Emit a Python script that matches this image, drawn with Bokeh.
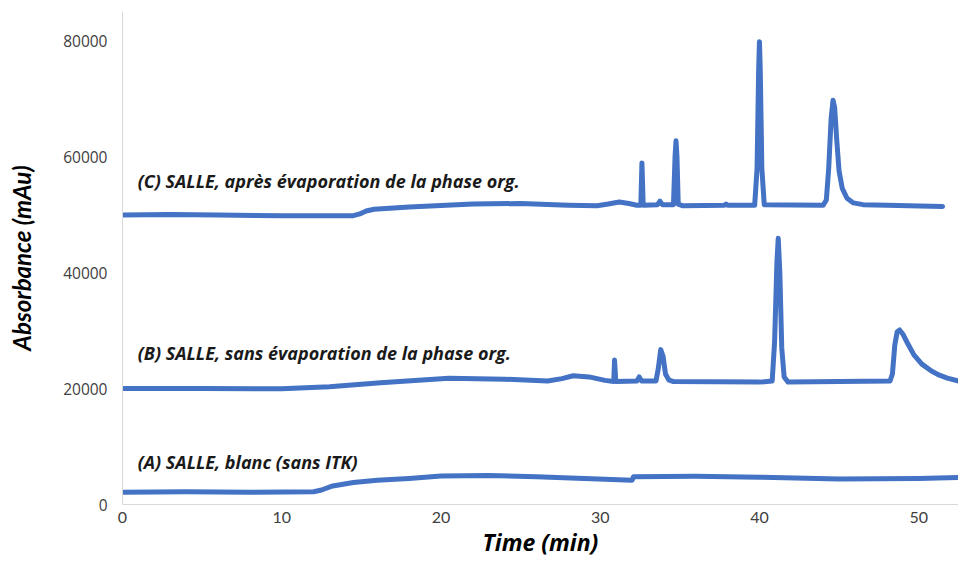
from bokeh.plotting import figure
from bokeh.models import Range1d, FixedTicker, Label
from bokeh.embed import file_html
from bokeh.resources import INLINE

# ---- data ----
# (C) SALLE, après évaporation de la phase org.
c_time = [0, 3, 6, 10, 14.5, 14.9, 15.3, 15.8, 18, 22, 25, 28, 29.8, 30.5, 31.2, 31.8, 32.3,
          32.55, 32.62, 32.7, 33.6, 33.75, 33.9, 34.6, 34.7, 34.76, 34.82, 34.9, 35.2,
          37.8, 37.9, 38.0, 39.7, 39.85, 39.95, 40.0, 40.05, 40.15, 40.3,
          44.0, 44.2, 44.35, 44.5, 44.62, 44.72, 44.85, 45.0, 45.2, 45.5, 45.9, 46.5, 48, 51.5]
c_abs = [49900, 50000, 49900, 49800, 49800, 50100, 50600, 50900, 51300, 51800, 51900, 51600,
         51500, 51800, 52150, 51900, 51600,
         51600, 58900, 51600, 51700, 52300, 51700, 51700, 60000, 62700, 60000, 51800, 51500,
         51600, 51800, 51600, 51600, 58000, 75000, 79800, 75000, 58000, 51700,
         51600, 52500, 58000, 66500, 69700, 68500, 63000, 57500, 54500, 52800, 52000, 51700,
         51600, 51400]

# (B) SALLE, sans évaporation de la phase org.
b_time = [0, 5, 10, 13, 16.2, 20.5, 24, 26.7, 27.6, 28.3, 29.3, 30.3, 30.85, 30.9, 30.98,
          32.3, 32.45, 32.6, 33.5, 33.65, 33.8, 33.95, 34.1, 34.3, 34.6, 40, 40.8, 40.95, 41.1,
          41.18, 41.28, 41.4, 41.55, 41.8, 48.2, 48.35, 48.5, 48.65, 48.8, 49.0, 49.3, 49.7,
          50.2, 50.8, 51.3, 51.8, 52.5, 53]
b_abs = [20000, 20000, 19950, 20300, 21000, 21750, 21600, 21300, 21700, 22200, 22000, 21400,
         21200, 24900, 21200, 21300, 22000, 21300, 21300, 23500, 26700, 25500, 22500, 21500,
         21200, 21100, 21300, 28000, 42000, 45900, 40000, 27000, 22000, 21100, 21300, 22500,
         27500, 29800, 30100, 29400, 27800, 25800, 24200, 23000, 22300, 21800, 21300, 21200]

# (A) SALLE, blanc (sans ITK)
a_time = [0, 4, 8, 12, 12.5, 13.2, 14.5, 16, 18, 20, 23, 26, 29, 32, 32.1, 36, 40, 45, 50, 53]
a_abs = [2100, 2200, 2100, 2200, 2500, 3200, 3800, 4200, 4500, 4900, 5000, 4800, 4500, 4200,
         4800, 4850, 4700, 4400, 4500, 4700]

series_labels = ["(C) SALLE, après évaporation de la phase org.",
                 "(B) SALLE, sans évaporation de la phase org.",
                 "(A) SALLE, blanc (sans ITK)"]
label_x = [0.95, 0.95, 0.95]
label_y = [55850, 26040, 7370]

x_ticks = [0, 10, 20, 30, 40, 50]
y_ticks = [0, 20000, 40000, 60000, 80000]

LINE = "#4472C4"

p = figure(width=958, height=560, output_backend="svg", toolbar_location=None,
           x_range=Range1d(0, 52.5), y_range=Range1d(0, 85000),
           min_border_left=122, min_border_right=0, min_border_top=11, min_border_bottom=53)
p.outline_line_color = None
p.grid.visible = False
p.background_fill_color = "white"

for t, v in [(c_time, c_abs), (b_time, b_abs), (a_time, a_abs)]:
    p.line(t, v, line_color=LINE, line_width=5, line_join="round", line_cap="round")

for txt, lx, ly in zip(series_labels, label_x, label_y):
    p.add_layout(Label(x=lx, y=ly, text=txt, text_font="Open Sans", text_font_style="bold italic",
                       text_font_size="18px", text_color="#1a1a1a", text_baseline="middle"))

p.xaxis.ticker = FixedTicker(ticks=x_ticks)
p.yaxis.ticker = FixedTicker(ticks=y_ticks)
for ax in (p.xaxis, p.yaxis):
    ax.axis_line_color = "#D9D9D9"
    ax.major_tick_line_color = None
    ax.minor_tick_line_color = None
    ax.major_tick_out = 0
    ax.major_tick_in = 0
    ax.minor_tick_out = 0
    ax.minor_tick_in = 0
    ax.major_label_text_color = "#404040"
    ax.axis_label_text_font_style = "bold italic"
    ax.axis_label_text_color = "#000000"

p.xaxis.axis_label = "Time (min)"
p.xaxis.axis_label_text_font = "Open Sans"
p.xaxis.axis_label_text_font_size = "23px"
p.yaxis.axis_label = "Absorbance (mAu)"
p.yaxis.axis_label_text_font = "Lato"
p.yaxis.axis_label_text_font_size = "24px"

p.xaxis.major_label_text_font = "Lato"
p.xaxis.major_label_text_font_size = "16px"
p.xaxis.major_label_standoff = 7
p.xaxis.axis_label_standoff = 0
p.yaxis.major_label_text_font = "Open Sans"
p.yaxis.major_label_text_font_size = "15.5px"
p.yaxis.major_label_standoff = 15
p.yaxis.axis_label_standoff = 24

open("out.html", "w").write(file_html(p, INLINE))
